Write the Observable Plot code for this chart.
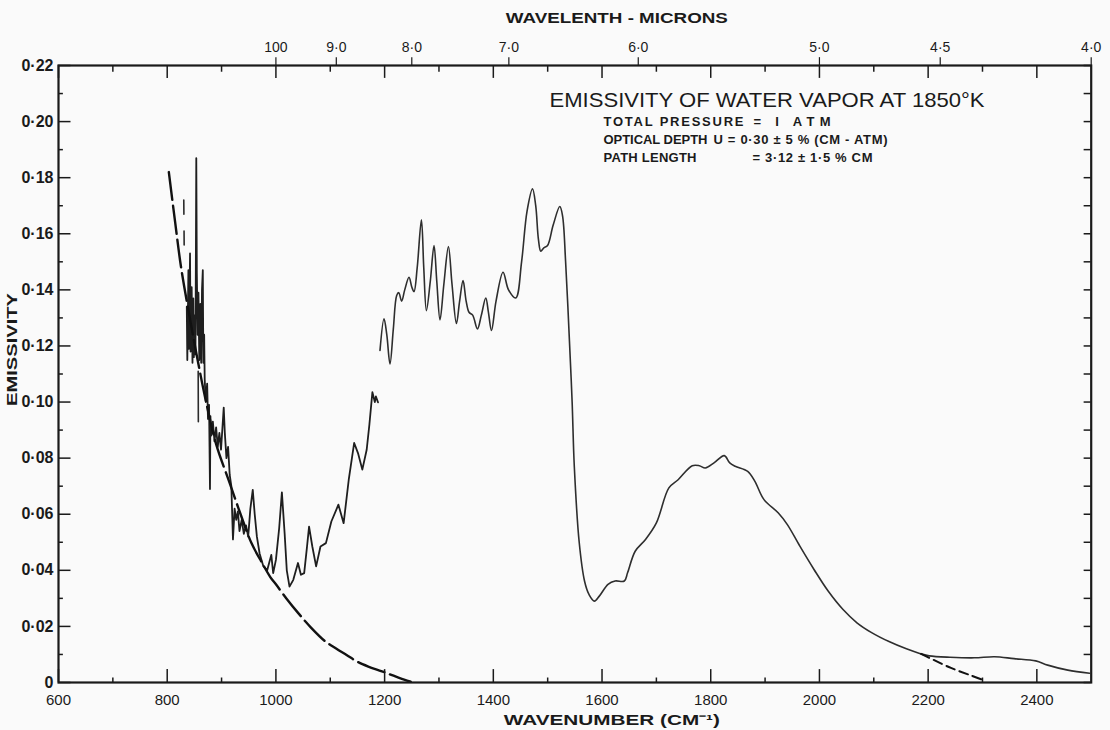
<!DOCTYPE html>
<html>
<head>
<meta charset="utf-8">
<script src="https://cdn.jsdelivr.net/npm/d3@7"></script>
<script src="https://cdn.jsdelivr.net/npm/@observablehq/plot@0.6"></script>
<style>
  html, body { margin: 0; padding: 0; background: #fafafa; }
  #chart { width: 1110px; height: 730px; }
</style>
</head>
<body>
<div id="chart"></div>
<script>
// ---- data: [wavenumber cm^-1, emissivity] ----
const continuumLow = [
  [803,.182],[815,.1635],[825,.1487],[838,.1338],[855,.116],[871,.1005],[890,.085],
  [915,.0711],[935,.060],[955,.0497],[975,.0425],[990,.0375],[1000,.0350],[1020,.0298],
  [1040,.0250],[1065,.0195],[1090,.0148],[1110,.0122],[1130,.0098],[1150,.0074],
  [1170,.0057],[1195,.0040],[1215,.0025],[1236,.0010],[1248,.0003]
];
const continuumHigh = [
  [2187,.0102],[2202,.0088],[2242,.0052],[2279,.0025],[2302,.0008]
];
const spectrumWindow = [
  [836,.134],[837,.115],[839,.147],[840,.119],[842,.153],[843,.118],[845,.141],[846.5,.114],
  [848,.137],[849,.116],[851,.131],[852,.117],[853.5,.187],[854.5,.146],[856,.124],[857.5,.139],
  [859,.115],[861,.135],[862.5,.114],[864,.140],[865.5,.147],[866.5,.114],[868,.124],
  [869,.108],[871,.100],[873.5,.1066],[875,.094],[877,.099],[878.7,.069],[879.5,.095],[881,.088],
  [884,.093],[887,.086],[890,.091],[893,.084],[896,.089],[899,.083],[902,.092],[904,.098],
  [906,.089],[909,.080],[912,.084],[915,.074],[918,.070],[921,.051],[924,.062],[927,.058],
  [930,.061],[933,.054],[937,.058],[941,.053],[945,.056],[949,.052],[953,.062],[957.4,.0687],
  [961,.060],[965,.052],[970,.046],[977,.0414],[984,.040],[988,.043],[991.5,.0455],[995,.039],
  [1000,.0437],[1006,.055],[1011,.0678],[1016,.0533],[1020,.040],[1025,.0342],[1032,.0366],
  [1040.6,.0426],[1046,.0384],[1052,.039],[1057,.048],[1061,.0556],[1067,.0485],[1074,.0414],
  [1082,.0485],[1092,.0497],[1102,.0574],[1115,.0634],[1124.6,.0568],[1134,.0723],[1144,.0854],
  [1151,.0818],[1159,.0759],[1167,.083],[1172,.092],[1177.5,.1035],[1182,.100],[1184,.102],[1187.8,.0999]
];
const spectrumBand = [
  [1191.5,.1184],[1198.9,.1297],[1204,.124],[1209.9,.1136],[1216,.126],[1222.2,.138],[1226,.139],
  [1231.4,.136],[1237,.140],[1244.9,.1445],[1250,.141],[1254.1,.1394],[1260,.148],[1267.7,.165],
  [1272,.148],[1276.9,.1326],[1284,.143],[1290.9,.1558],[1296,.143],[1301.9,.1293],[1309,.142],
  [1317.4,.1554],[1324,.142],[1332.1,.128],[1338,.136],[1344.3,.1433],[1350,.136],[1355.3,.132],
  [1362,.131],[1370.8,.1261],[1378,.131],[1386.1,.1371],[1391,.132],[1396.6,.1255],[1405,.136],
  [1417.9,.1463],[1428,.140],[1441.3,.1371],[1452,.150],[1462,.168],[1472.1,.176],[1478,.170],
  [1483,.158],[1487.3,.1538],[1493,.155],[1499.7,.1558],[1510,.163],[1522.3,.1697],[1527.3,.1665],
  [1533,.150],[1540,.122],[1545,.100],[1549,.077],[1558,.050],[1568,.036],[1576,.0314],[1586,.029],
  [1595,.0308],[1611,.035],[1624,.0362],[1641,.0362],[1647,.0391],[1661,.0468],[1680,.051],
  [1700,.0569],[1723,.0694],[1740,.0723],[1766,.0773],[1779,.0773],[1790,.0765],[1806,.0783],
  [1825,.0809],[1835,.0783],[1845,.0771],[1868,.0753],[1881,.0718],[1898,.0652],[1924,.0605],
  [1941,.0563],[1964,.0486],[1990,.0403],[2016,.0326],[2043,.0261],[2069,.0213],[2096,.0178],
  [2128,.0146],[2160,.0120],[2187,.0102],[2202,.0095],[2240,.0090],[2285,.0088],[2322,.0092],
  [2358,.0085],[2398,.0077],[2420,.0062],[2457,.0044],[2497,.0033]
];
// small detached pen strokes: [wavenumber, emissivity, stroke id]
const spectrumFragments = [
  [830.5,.172,0],[830.7,.167,0],[831,.161,1],[831.2,.156,1],[857,.111,2],[857.3,.093,2]
];

// ---- axes ----
const xMajorTicks = [600,800,1000,1200,1400,1600,1800,2000,2200,2400];
const xMinorTicks = [700,900,1100,1300,1500,1700,1900,2100,2300];
const yMajorTicks = [0,.02,.04,.06,.08,.10,.12,.14,.16,.18,.20,.22];
const yMajorLabels = ["0","0·02","0·04","0·06","0·08","0·10","0·12","0·14","0·16","0·18","0·20","0·22"];
const yMinorTicks = [.01,.03,.05,.07,.09,.11,.13,.15,.17,.19,.21];
const wavelengthTicks = [10.0,9.0,8.0,7.0,6.0,5.0,4.5,4.0];
const wavelengthLabels = ["100","9·0","8·0","7·0","6·0","5·0","4·5","4·0"];

const titleText = "EMISSIVITY OF WATER VAPOR AT 1850°K";
const noteLabels = ["TOTAL PRESSURE","OPTICAL DEPTH","PATH LENGTH"];
const noteValues = ["= I ATM","U = 0·30 ± 5 % (CM - ATM)","= 3·12 ± 1·5 % CM"];

const ink = "#1a1a1a";
const font = "Liberation Sans, Arial, sans-serif";
const X = d => d[0], Y = d => d[1];

// text widths (px) to match the hand lettering: [width, lengthAdjust]
const fitWidths = new Map([
  [titleText, [435, "spacingAndGlyphs"]],
  ["TOTAL PRESSURE", [140, "spacing"]], ["= I ATM", [77, "spacing"]],
  ["OPTICAL DEPTH", [104, "spacing"]], ["U = 0·30 ± 5 % (CM - ATM)", [174, "spacing"]],
  ["PATH LENGTH", [93, "spacing"]], ["= 3·12 ± 1·5 % CM", [120, "spacing"]],
  ["WAVELENTH - MICRONS", [222, "spacingAndGlyphs"]], ["WAVENUMBER (CM⁻¹)", [216, "spacingAndGlyphs"]],
  ["EMISSIVITY", [113, "spacingAndGlyphs"]]
]);

const noteRows = [56, 74, 92];
const noteValueDx = [695, 655, 694];

const chart = Plot.plot({
  width: 1110,
  height: 730,
  marginLeft: 58,
  marginRight: 19.3,
  marginTop: 65,
  marginBottom: 48,
  x: {domain: [600, 2500], axis: null},
  y: {domain: [0, 0.22], axis: null},
  style: {background: "#fafafa", fontFamily: font, overflow: "visible"},
  marks: [
    // spectrum
    Plot.line(spectrumWindow, {x: X, y: Y, stroke: "#1e1e1e", strokeWidth: 1.8}),
    Plot.line(spectrumBand, {x: X, y: Y, stroke: "#2e2e2e", strokeWidth: 1.6, curve: "catmull-rom"}),
    Plot.line(spectrumFragments, {x: X, y: Y, z: d => d[2], stroke: "#2b2b2b", strokeWidth: 1.6}),
    // continuum (dashed)
    Plot.line(continuumLow, {x: X, y: Y, stroke: "#111", strokeWidth: 2.4, strokeDasharray: "28,6", curve: "catmull-rom"}),
    Plot.line(continuumHigh, {x: X, y: Y, stroke: "#111", strokeWidth: 2, strokeDasharray: "9,5", curve: "catmull-rom"}),
    // frame
    Plot.frame({stroke: ink, strokeWidth: 2.2}),
    // bottom ticks (inward)
    Plot.ruleX(xMajorTicks, {x: d => d, y1: 0, y2: 0.0046, stroke: ink, strokeWidth: 1.5}),
    Plot.ruleX(xMinorTicks, {x: d => d, y1: 0, y2: 0.0016, stroke: ink, strokeWidth: 1.5}),
    // top ticks (inward)
    Plot.ruleX(xMajorTicks, {x: d => d, y1: 0.22, y2: 0.22 - 0.0046, stroke: ink, strokeWidth: 1.5}),
    Plot.ruleX(xMinorTicks, {x: d => d, y1: 0.22, y2: 0.22 - 0.0024, stroke: ink, strokeWidth: 1.5}),
    // top wavelength ticks (outward)
    Plot.ruleX(wavelengthTicks, {x: d => 10000 / d, y1: 0.22, y2: 0.2228, stroke: ink, strokeWidth: 1.2}),
    // left ticks
    Plot.ruleY(yMajorTicks, {y: d => d, x1: 600, x2: 623, stroke: ink, strokeWidth: 1.5}),
    Plot.ruleY(yMinorTicks, {y: d => d, x1: 600, x2: 609, stroke: ink, strokeWidth: 1.5}),
    // right ticks
    Plot.ruleY(yMajorTicks.concat(yMinorTicks), {y: d => d, x1: 2500, x2: 2487, stroke: ink, strokeWidth: 1.5}),
    // tick labels
    Plot.text(xMajorTicks, {x: d => d, y: 0, text: d => String(d), dy: 18, fontSize: 15, fill: ink}),
    Plot.text(yMajorTicks, {x: 600, y: d => d, text: (d, i) => yMajorLabels[i], dx: -5, textAnchor: "end", fontSize: 16, fontWeight: "bold", fill: ink}),
    Plot.text(wavelengthTicks, {x: d => 10000 / d, y: 0.22, text: (d, i) => wavelengthLabels[i], dy: -18, fontSize: 14, fill: ink}),
    // axis titles
    Plot.text(["WAVELENTH - MICRONS"], {frameAnchor: "top", lineAnchor: "middle", dx: 42, dy: -47, fontSize: 14, fontWeight: "bold", fill: ink}),
    Plot.text(["WAVENUMBER (CM⁻¹)"], {frameAnchor: "bottom", lineAnchor: "middle", dx: 37, dy: 38, fontSize: 15, fontWeight: "bold", fill: ink}),
    Plot.text(["EMISSIVITY"], {frameAnchor: "left", dx: -46, dy: -24.5, rotate: -90, textAnchor: "middle", fontSize: 15, fontWeight: "bold", fill: ink}),
    // title block
    Plot.text([titleText], {frameAnchor: "top-left", lineAnchor: "middle", dx: 491, dy: 35, textAnchor: "start", fontSize: 21, fill: ink}),
    ...noteLabels.map((t, i) => Plot.text([t], {frameAnchor: "top-left", lineAnchor: "middle", dx: 545, dy: noteRows[i], textAnchor: "start", fontSize: 13, fontWeight: "bold", fill: ink})),
    ...noteValues.map((t, i) => Plot.text([t], {frameAnchor: "top-left", lineAnchor: "middle", dx: noteValueDx[i], dy: noteRows[i], textAnchor: "start", fontSize: 13, fontWeight: "bold", fill: ink}))
  ]
});
d3.select(chart).selectAll("text").each(function() {
  const fit = fitWidths.get(this.textContent);
  if (fit) {
    this.setAttribute("textLength", fit[0]);
    this.setAttribute("lengthAdjust", fit[1]);
  }
});
document.getElementById("chart").appendChild(chart);
</script>
</body>
</html>
